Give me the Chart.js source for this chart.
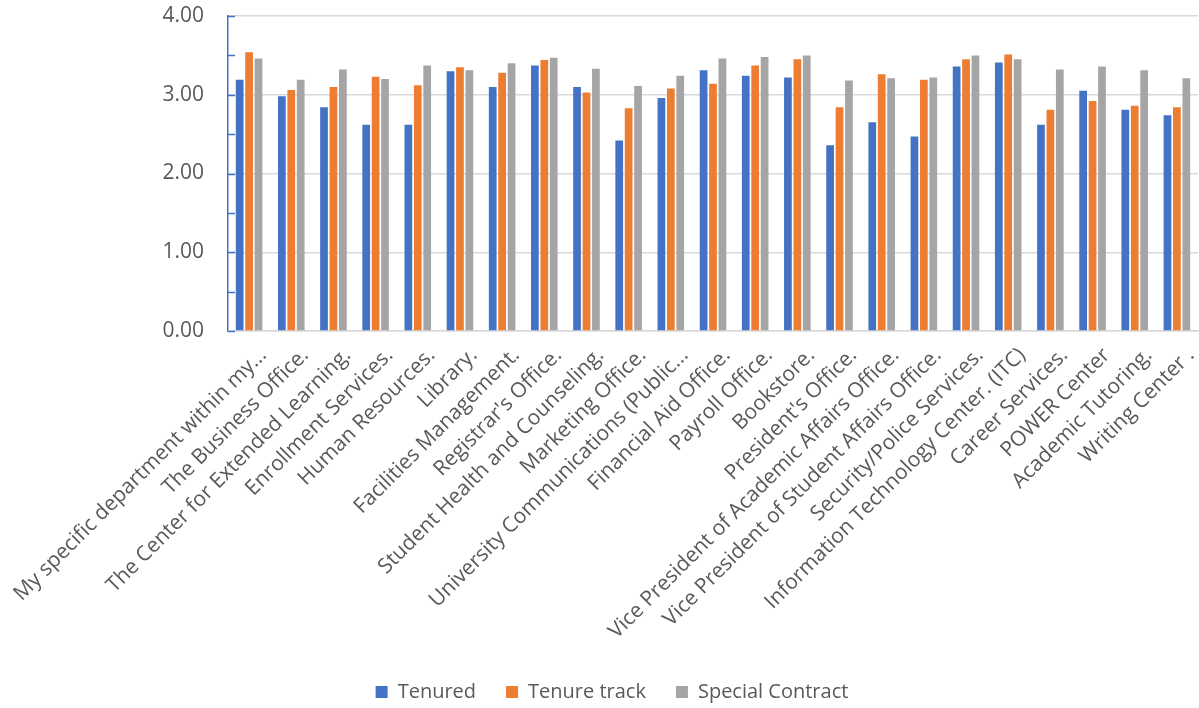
<!DOCTYPE html>
<html>
<head>
<meta charset="utf-8">
<script src="https://cdn.jsdelivr.net/npm/chart.js@4.4.0/dist/chart.umd.min.js"></script>
<style>
  html, body { margin: 0; padding: 0; background: #fff; }
  #wrap { width: 1199px; height: 708px; }
</style>
</head>
<body>
<div id="wrap"><canvas id="chart" width="1199" height="708"></canvas></div>
<script>
const categories = [
  'My specific department within my...',
  'The Business Office.',
  'The Center for Extended Learning.',
  'Enrollment Services.',
  'Human Resources.',
  'Library.',
  'Facilities Management.',
  "Registrar's Office.",
  'Student Health and Counseling.',
  'Marketing Office.',
  'University Communications (Public...',
  'Financial Aid Office.',
  'Payroll Office.',
  'Bookstore.',
  "President's Office.",
  'Vice President of Academic Affairs Office.',
  'Vice President of Student Affairs Office.',
  'Security/Police Services.',
  'Information Technology Center. (ITC)',
  'Career Services.',
  'POWER Center',
  'Academic Tutoring.',
  'Writing Center .',
];

const tenured = [3.19, 2.98, 2.84, 2.62, 2.62, 3.30, 3.10, 3.37, 3.10, 2.42, 2.96, 3.31,
  3.24, 3.22, 2.36, 2.65, 2.47, 3.36, 3.41, 2.62, 3.05, 2.81, 2.74];
const tenureTrack = [3.54, 3.06, 3.10, 3.23, 3.12, 3.35, 3.28, 3.44, 3.03, 2.83, 3.08, 3.14,
  3.37, 3.45, 2.84, 3.26, 3.19, 3.45, 3.51, 2.81, 2.92, 2.86, 2.84];
const specialContract = [3.46, 3.19, 3.32, 3.20, 3.37, 3.31, 3.40, 3.47, 3.33, 3.11, 3.24, 3.46,
  3.48, 3.50, 3.18, 3.21, 3.22, 3.50, 3.45, 3.32, 3.36, 3.31, 3.21];

const seriesNames = ['Tenured', 'Tenure track', 'Special Contract'];
const yTicks = [0, 1, 2, 3, 4];

const FONT = "'Open Sans', 'DejaVu Sans', sans-serif";
const TEXT = '#595959';
const AXIS_BLUE = '#4472C4';

// small blue tick marks on the inside of the value axis, every 0.5
const innerTicks = {
  id: 'innerTicks',
  afterDraw(chart) {
    const y = chart.scales.y;
    const ctx = chart.ctx;
    const x0 = chart.chartArea.left;
    ctx.save();
    ctx.strokeStyle = AXIS_BLUE;
    ctx.lineWidth = 1.5;
    for (let v = 0; v <= 4.0001; v += 0.5) {
      const py = Math.round(y.getPixelForValue(v)) + 0.5;
      ctx.beginPath();
      ctx.moveTo(x0, py);
      ctx.lineTo(x0 + 7, py);
      ctx.stroke();
    }
    ctx.restore();
  }
};

const mk = (label, data, color) => ({
  label,
  data,
  backgroundColor: color,
  borderWidth: 0,
  categoryPercentage: 0.67,
  barPercentage: 0.82,
});

new Chart(document.getElementById('chart'), {
  type: 'bar',
  data: {
    labels: categories,
    datasets: [
      mk(seriesNames[0], tenured, '#4472C4'),
      mk(seriesNames[1], tenureTrack, '#ED7D31'),
      mk(seriesNames[2], specialContract, '#A5A5A5'),
    ],
  },
  options: {
    responsive: false,
    animation: false,
    layout: { padding: { top: 16, right: 1, left: 26, bottom: -4 } },
    plugins: {
      tooltip: { enabled: false },
      legend: {
        position: 'bottom',
        labels: {
          color: TEXT,
          font: { family: FONT, size: 20 },
          boxWidth: 12,
          boxHeight: 12,
          padding: 30,
        },
      },
    },
    scales: {
      x: {
        grid: { display: false, drawTicks: false },
        border: { display: true, color: '#d9d9d9', width: 1.5 },
        ticks: {
          color: TEXT,
          font: { family: FONT, size: 21 },
          autoSkip: false,
          minRotation: 45,
          maxRotation: 45,
          padding: 12,
          labelOffset: 14,
        },
        afterFit(scale) {
          scale.height = 321;
          scale.paddingLeft = 0;
          scale.paddingRight = 0;
        },
      },
      y: {
        min: 0,
        max: 4,
        afterBuildTicks(scale) { scale.ticks = yTicks.map(v => ({ value: v })); },
        grid: { color: '#d9d9d9', lineWidth: 1.5, drawTicks: false },
        border: { display: true, color: AXIS_BLUE, width: 1.5 },
        ticks: {
          color: TEXT,
          font: { family: FONT, size: 21 },
          padding: 24,
          callback: v => v.toFixed(2),
        },
        afterFit(scale) {
          scale.width = 202;
          scale.paddingTop = 0;
          scale.paddingBottom = 0;
        },
      },
    },
  },
  plugins: [innerTicks],
});
</script>
</body>
</html>
